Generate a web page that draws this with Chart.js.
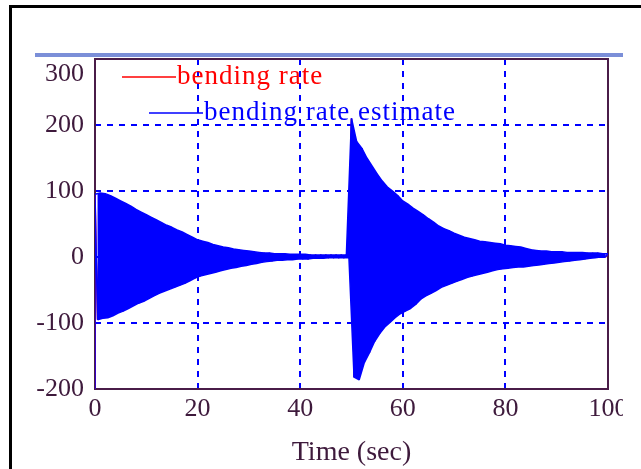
<!DOCTYPE html>
<html>
<head>
<meta charset="utf-8">
<script src="https://cdn.jsdelivr.net/npm/chart.js@4.4.1/dist/chart.umd.min.js"></script>
<style>
  html, body { margin: 0; padding: 0; background: #fff; }
  body { width: 641px; height: 469px; position: relative; overflow: hidden; }
  #chart { position: absolute; left: 0; top: 0; }
  .frame-top { position: absolute; left: 9px; top: 5px; width: 632px; height: 3px; background: #000; }
  .frame-left { position: absolute; left: 9px; top: 5px; width: 3px; height: 464px; background: #000; }
  .band { position: absolute; left: 35px; top: 53px; width: 588px; height: 4px; background: #7b8fd8; }
</style>
</head>
<body>
<div class="frame-top"></div>
<div class="frame-left"></div>
<div class="band"></div>
<canvas id="chart" width="623" height="469"></canvas>
<script>
// Bending rate vs time. The signal oscillates too
// fast to resolve, so each second holds one upper and one lower swing peak.

const seriesLabels = ['bending rate', 'bending rate estimate'];

// value at t = 0 (trace starts below the axis floor)
const startValue = -210;

// upper swing peak at t = 0, 1, 2 ... 100 s
const upperPeaks = [
  95, 97, 96, 93, 89, 85, 81, 77, 72, 68,
  64, 60, 56, 52, 48, 45, 41, 38, 34, 30,
  26, 24, 22, 19, 17, 15, 14, 12, 11, 10,
  9, 8, 7, 6, 6, 5, 5, 5, 4, 4,
  4, 4, 3, 3, 3, 3, 3, 3, 3, 3,
  210, 175, 165, 150, 138, 126, 115, 106, 100, 93,
  85, 80, 74, 69, 64, 58, 53, 47, 43, 40,
  36, 33, 30, 28, 26, 24, 23, 22, 21, 20,
  18, 17, 16, 15, 13, 11, 10, 9, 9, 8,
  8, 8, 7, 7, 7, 7, 6, 6, 6, 5,
  5
];

// lower swing peak at t = 0.5, 1.5 ... 99.5 s
const lowerPeaks = [
  -95, -93, -92, -89, -85, -82, -78, -74, -70, -67,
  -63, -59, -55, -52, -49, -46, -43, -40, -36, -32,
  -29, -27, -25, -23, -21, -19, -17, -16, -14, -13,
  -11, -10, -8, -7, -6, -5, -5, -4, -4, -3,
  -3, -3, -2, -2, -2, -1, -1, -1, -1, -1,
  -182, -186, -160, -145, -128, -116, -106, -99, -92, -86,
  -82, -78, -72, -64, -59, -55, -51, -46, -43, -40,
  -37, -34, -31, -29, -27, -25, -23, -21, -19, -18,
  -17, -16, -15, -15, -14, -13, -12, -11, -10, -9,
  -8, -7, -6, -5, -4, -3, -2, -1, 0, 0
];

const xTicks = [0, 20, 40, 60, 80, 100];
const yTicks = [-200, -100, 0, 100, 200, 300];

const AXIS_COLOR = '#4a1c48';
const LABEL_COLOR = '#3e1a3c';
const GRID_COLOR = '#0000ff';
const FONT = '"Liberation Serif", "Times New Roman", serif';

const upperPts = upperPeaks.map((v, i) => ({ x: i, y: v }));
const lowerPts = lowerPeaks.map((v, i) => ({ x: i + 0.5, y: v }));

// zigzag through the swing peaks, in time order
function buildTrace() {
  const pts = [{ x: 0, y: startValue }];
  upperPts.forEach((p, i) => {
    pts.push(p);
    if (lowerPts[i]) pts.push(lowerPts[i]);
  });
  return pts;
}

const trace = buildTrace();

// box around the plot + staggered in-plot legend
const plotDecor = {
  id: 'plotDecor',
  beforeDatasetsDraw(chart) {
    const { ctx, chartArea: a } = chart;
    ctx.save();
    ctx.strokeStyle = AXIS_COLOR;
    ctx.lineWidth = 2;
    ctx.strokeRect(a.left, a.top, a.right - a.left, a.bottom - a.top);
    ctx.restore();
  },
  afterDatasetsDraw(chart) {
    const ctx = chart.ctx;
    const spots = [{ x: 122, y: 77 }, { x: 149, y: 113 }];
    ctx.save();
    ctx.font = '27px ' + FONT;
    ctx.letterSpacing = '1px';
    ctx.textBaseline = 'alphabetic';
    chart.data.datasets.slice(0, 2).forEach((ds, i) => {
      const s = spots[i];
      ctx.strokeStyle = ds.borderColor;
      ctx.lineWidth = 1.5;
      ctx.beginPath();
      ctx.moveTo(s.x, s.y);
      ctx.lineTo(s.x + 54, s.y);
      ctx.stroke();
      ctx.fillStyle = ds.borderColor;
      ctx.fillText(ds.label, s.x + 55, s.y + 7);
    });
    ctx.restore();
  }
};

const lineBase = { pointRadius: 0, borderWidth: 1.5, tension: 0, borderJoinStyle: 'bevel' };

new Chart(document.getElementById('chart'), {
  type: 'line',
  data: {
    datasets: [
      { ...lineBase, label: seriesLabels[0], data: trace, borderColor: '#ff0000', order: 3 },
      { ...lineBase, label: seriesLabels[1], data: trace, borderColor: '#0000ff', order: 0 },
      // swing envelope of the estimate, shaded solid as the fast oscillation renders
      {
        ...lineBase, label: 'upper swing', data: upperPts, borderColor: '#0000ff',
        backgroundColor: '#0000ff', fill: '+1', order: 1
      },
      { ...lineBase, label: 'lower swing', data: lowerPts, borderColor: '#0000ff', order: 2 }
    ]
  },
  options: {
    responsive: false,
    animation: false,
    layout: { autoPadding: false, padding: { left: 0, top: 59, right: 15, bottom: 0 } },
    plugins: { legend: { display: false }, tooltip: { enabled: false } },
    scales: {
      x: {
        type: 'linear',
        min: xTicks[0],
        max: xTicks[xTicks.length - 1],
        afterBuildTicks: (s) => { s.ticks = xTicks.map((v) => ({ value: v })); },
        afterFit: (s) => { s.height = 80; s.paddingLeft = 0; s.paddingRight = 0; },
        border: { display: false, dash: [6, 6] },
        grid: { color: GRID_COLOR, lineWidth: 2, drawTicks: false },
        ticks: { color: LABEL_COLOR, font: { family: FONT, size: 26 }, padding: 5, maxRotation: 0 },
        title: {
          display: true,
          text: 'Time (sec)',
          color: LABEL_COLOR,
          font: { family: FONT, size: 28 },
          padding: { top: 0, bottom: 0 }
        }
      },
      y: {
        min: yTicks[0],
        max: yTicks[yTicks.length - 1],
        afterBuildTicks: (s) => { s.ticks = yTicks.map((v) => ({ value: v })); },
        afterFit: (s) => { s.width = 95; s.paddingTop = 0; s.paddingBottom = 0; },
        border: { display: false, dash: [6, 6] },
        grid: { color: GRID_COLOR, lineWidth: 2, drawTicks: false },
        ticks: {
          color: LABEL_COLOR,
          font: { family: FONT, size: 26 },
          padding: 11,
          // top label sits below its tick, as in the original
          callback: (v) => (v === 300 ? ['', String(v)] : String(v))
        }
      }
    }
  },
  plugins: [plotDecor]
});
</script>
</body>
</html>
